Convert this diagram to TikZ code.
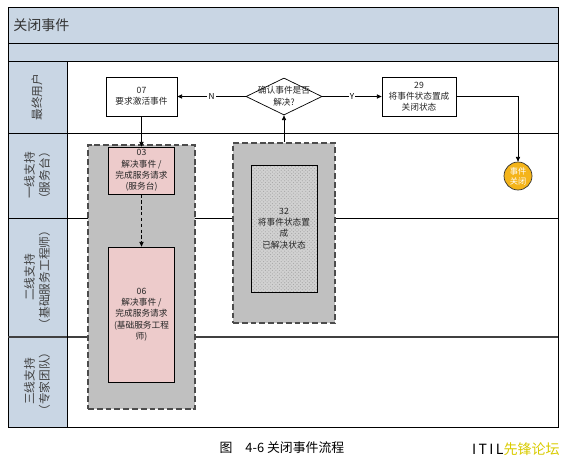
\documentclass[tikz,border=0pt]{standalone}
\usepackage{fontspec}
\setmainfont{Noto Sans CJK SC}
\usepackage{xcolor}
\usepackage{tikz}
\usetikzlibrary{positioning,arrows.meta}
\usetikzlibrary{shapes.geometric}
\usetikzlibrary{patterns}
\definecolor{laneblue}{HTML}{C9D6E4}
\definecolor{taskpink}{HTML}{EDCBCB}
\definecolor{groupgray}{HTML}{C0C0C0}
\definecolor{endorange}{HTML}{F4B41A}
\definecolor{siteyellow}{HTML}{D9CB00}
\tikzset{every picture/.style={line width=0.6pt}}
\tikzset{
  task/.style={draw, fill=white, align=center, text=black!85, inner sep=1pt,
    font=\fontsize{7.4}{9.6}\selectfont},
  pinktask/.style={task, fill=taskpink},
  group/.style={draw=black!70, fill=groupgray, dash pattern=on 5pt off 2.5pt, line width=1.1pt},
  lanelabel/.style={rotate=90, align=center, text=black!75, font=\fontsize{10}{13}\selectfont},
  tip/.style={-{Triangle[length=4pt,width=3.5pt]}},
  yn/.style={fill=white, inner sep=1pt, font=\fontsize{7}{8}\selectfont}
}

\begin{document}
\begin{tikzpicture}[x=0.03cm,y=-0.03cm]
\useasboundingbox (0,0) rectangle (567,462);
% pool
\fill[laneblue] (8,7) rectangle (558,61);
\fill[laneblue] (8,61) rectangle (67,427);
\draw (8,7) rectangle (558,427);
\draw (8,43) -- (558,43);
\draw (8,61) -- (558,61);
\draw (8,133) -- (558,133);
\draw (8,218) -- (558,218);
\draw[black!75, line width=1pt] (8,337) -- (558,337);
\draw (67,61) -- (67,427);
\node[anchor=west, text=black!80, font=\fontsize{12}{14}\selectfont] (title) at (9,25) {关闭事件};
%
\node[lanelabel] (lane1) at (37,97) {最终用户};
\node[lanelabel] (lane2) at (37,175.5) {一线支持\\（服务台）};
\node[lanelabel] (lane3) at (37,277.5) {二线支持\\（基础服务工程师）};
\node[lanelabel] (lane4) at (37,381.5) {三线支持\\（专家团队）};
%
\node[group, minimum width=3.21cm, minimum height=7.92cm] (grp1) at (141.5,277) {};
\node[group, minimum width=3.06cm, minimum height=5.4cm] (grp2) at (284,233) {};
%
\node[task, minimum width=2.13cm, minimum height=1.17cm] (n07) at (141.5,96.5) {07\\要求激活事件};
\node[draw, fill=white, diamond, minimum width=2.28cm, minimum height=1.11cm, inner sep=0pt,
  label={[font=\fontsize{7.4}{10.5}\selectfont, align=center, text=black!85]center:确认事件是否\\解决?}] (dec) at (284,96.5) {};
\node[task, minimum width=2.22cm, minimum height=1.17cm] (n29) at (419,96.5) {29\\将事件状态置成\\关闭状态};
\node[pinktask, minimum width=1.98cm, minimum height=1.41cm] (n03) at (141.5,170.5) {03\\解决事件 /\\完成服务请求\\(服务台)};
\node[pinktask, minimum width=1.98cm, minimum height=4.05cm] (n06) at (141.5,314.5) {06\\解决事件 /\\完成服务请求\\(基础服务工程\\师)};
\node[task, preaction={fill=black!18}, pattern=crosshatch dots, pattern color=black!35,
  minimum width=1.98cm, minimum height=3.81cm] (n32) at (284,228.5) {32\\将事件状态置\\成\\已解决状态};
\node[circle, draw=black!80, fill=endorange, minimum size=0.84cm, inner sep=0pt, align=center,
  text=white, font=\fontsize{7}{8.5}\selectfont] (done) at (518,176) {事件\\关闭};
%
\draw[tip] (n07.south) -- (n03.north);
\draw[tip, dash pattern=on 3pt off 2pt] (n03.south) -- (n06.north);
\draw[tip] (grp2.north) -- (dec.south);
\draw[tip] (dec.west) -- node[yn] {N} (n07.east);
\draw[tip] (dec.east) -- node[yn] {Y} (n29.west);
\draw[tip] (n29.east) -| (done.north);
%
\node[font=\fontsize{11}{13}\selectfont] (caption) at (282,448) {图\quad 4-6 关闭事件流程};
\node[anchor=east, font=\fontsize{12}{14}\selectfont] (site) at (564,449) {I\,T\,I\,L\textcolor{siteyellow}{先锋论坛}};
\end{tikzpicture}
\end{document}
